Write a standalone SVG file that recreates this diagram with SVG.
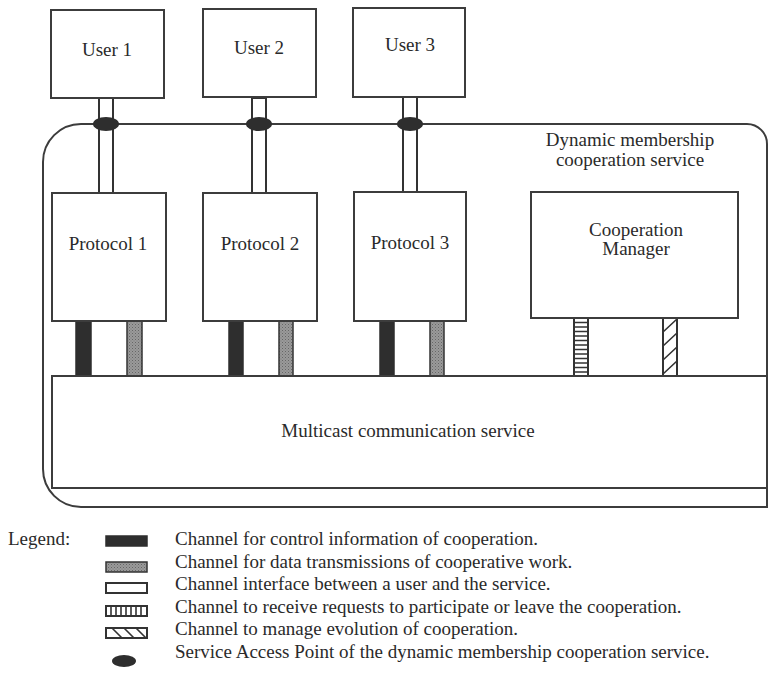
<svg xmlns="http://www.w3.org/2000/svg" width="769" height="677" viewBox="0 0 769 677">
  <style>
    .box { fill: #fff; stroke: #3c3c3c; stroke-width: 2; }
    .frame { fill: none; stroke: #3c3c3c; stroke-width: 2; }
    .lbl { font-family: "Liberation Serif", "Times New Roman", serif; font-size: 19px; fill: #2a2a2a; }
    .mid { text-anchor: middle; }
    .ctl { fill: #2e2e2e; stroke: #2e2e2e; stroke-width: 1.5; }
    .dat { fill: url(#stipple); stroke: #333; stroke-width: 1.5; }
    .ifc { fill: #fff; stroke: #333; stroke-width: 2; }
    .sap { fill: #2e2e2e; }
    .rung { stroke: #333; stroke-width: 1.6; }
  </style>
  <defs>
    <pattern id="stipple" width="3" height="3" patternUnits="userSpaceOnUse">
      <rect width="3" height="3" fill="#9a9a9a"/>
      <rect width="1" height="1" fill="#666"/>
      <rect x="1.5" y="1.5" width="1" height="1" fill="#777"/>
    </pattern>
  </defs>

  <!-- service frame -->
  <g id="dynamic-membership-service">
    <path class="frame" d="M 43,162 A 38 38 0 0 1 81,124 L 747,124 A 20 20 0 0 1 767,144 L 767,507 L 81,507 A 38 38 0 0 1 43,469 Z"/>
    <text class="lbl mid" x="630" y="146">Dynamic membership</text>
    <text class="lbl mid" x="630" y="166">cooperation service</text>
  </g>

  <!-- connectors -->
  <g id="connectors">
    <!-- user interface channels -->
    <rect class="ifc" x="99" y="98" width="14" height="95"/>
    <rect class="ifc" x="252" y="98" width="14" height="95"/>
    <rect class="ifc" x="403" y="97" width="14" height="96"/>
    <!-- control channels -->
    <rect class="ctl" x="76" y="321" width="15" height="55"/>
    <rect class="ctl" x="229" y="321" width="14" height="55"/>
    <rect class="ctl" x="380" y="321" width="14" height="55"/>
    <!-- data channels -->
    <rect class="dat" x="127" y="321" width="15" height="55"/>
    <rect class="dat" x="279" y="321" width="14" height="55"/>
    <rect class="dat" x="430" y="321" width="14" height="55"/>
    <!-- participation request channel -->
    <g id="request-channel">
      <rect class="ifc" x="574" y="318" width="14" height="58"/>
      <path class="rung" d="M574,322.5H588M574,327H588M574,331.5H588M574,336H588M574,340.5H588M574,345H588M574,349.5H588M574,354H588M574,358.5H588M574,363H588M574,367.5H588M574,372H588"/>
    </g>
    <!-- evolution management channel -->
    <g id="evolution-channel">
      <rect class="ifc" x="663" y="318" width="14" height="58"/>
      <path class="rung" d="M663,332L677,319M663,346L677,333M663,360L677,347M663,374L677,361"/>
    </g>
    <!-- service access points -->
    <ellipse class="sap" cx="106" cy="124" rx="13" ry="7"/>
    <ellipse class="sap" cx="259" cy="124" rx="13" ry="7"/>
    <ellipse class="sap" cx="410" cy="124" rx="13" ry="7"/>
  </g>

  <g id="user1">
    <rect class="box" x="51" y="10" width="113" height="88"/>
    <text class="lbl mid" x="107" y="56">User 1</text>
  </g>
  <g id="user2">
    <rect class="box" x="203" y="9" width="113" height="88"/>
    <text class="lbl mid" x="259" y="54">User 2</text>
  </g>
  <g id="user3">
    <rect class="box" x="353" y="8" width="112" height="89"/>
    <text class="lbl mid" x="410" y="51">User 3</text>
  </g>

  <g id="protocol1">
    <rect class="box" x="52" y="193" width="114" height="128"/>
    <text class="lbl mid" x="108" y="250">Protocol 1</text>
  </g>
  <g id="protocol2">
    <rect class="box" x="203" y="193" width="114" height="128"/>
    <text class="lbl mid" x="260" y="250">Protocol 2</text>
  </g>
  <g id="protocol3">
    <rect class="box" x="354" y="192" width="112" height="129"/>
    <text class="lbl mid" x="410" y="249">Protocol 3</text>
  </g>

  <g id="cooperation-manager">
    <rect class="box" x="531" y="192" width="207" height="126"/>
    <text class="lbl mid" x="636" y="236">Cooperation</text>
    <text class="lbl mid" x="636" y="255">Manager</text>
  </g>

  <g id="multicast-service">
    <rect class="box" x="52" y="376" width="715" height="112"/>
    <text class="lbl mid" x="408" y="437">Multicast communication service</text>
  </g>

  <!-- legend -->
  <g id="legend">
    <text class="lbl" x="8" y="545">Legend:</text>
    <rect class="ctl" x="106" y="536" width="41" height="10"/>
    <text class="lbl" x="175" y="545">Channel for control information of cooperation.</text>
    <rect class="dat" x="106" y="562" width="41" height="10"/>
    <text class="lbl" x="175" y="568">Channel for data transmissions of cooperative work.</text>
    <rect class="ifc" x="106" y="583" width="41" height="10"/>
    <text class="lbl" x="175" y="590">Channel interface between a user and the service.</text>
    <rect class="ifc" x="106" y="606" width="41" height="10"/>
    <path class="rung" d="M111,606V616M116,606V616M121,606V616M126,606V616M131,606V616M136,606V616M141,606V616"/>
    <text class="lbl" x="175" y="613">Channel to receive requests to participate or leave the cooperation.</text>
    <rect class="ifc" x="106" y="628" width="41" height="10"/>
    <path class="rung" d="M112,628L122,638M124,628L134,638M136,628L146,638"/>
    <text class="lbl" x="175" y="635">Channel to manage evolution of cooperation.</text>
    <ellipse class="sap" cx="124" cy="661" rx="12" ry="6"/>
    <text class="lbl" x="175" y="658">Service Access Point of the dynamic membership cooperation service.</text>
  </g>
</svg>
